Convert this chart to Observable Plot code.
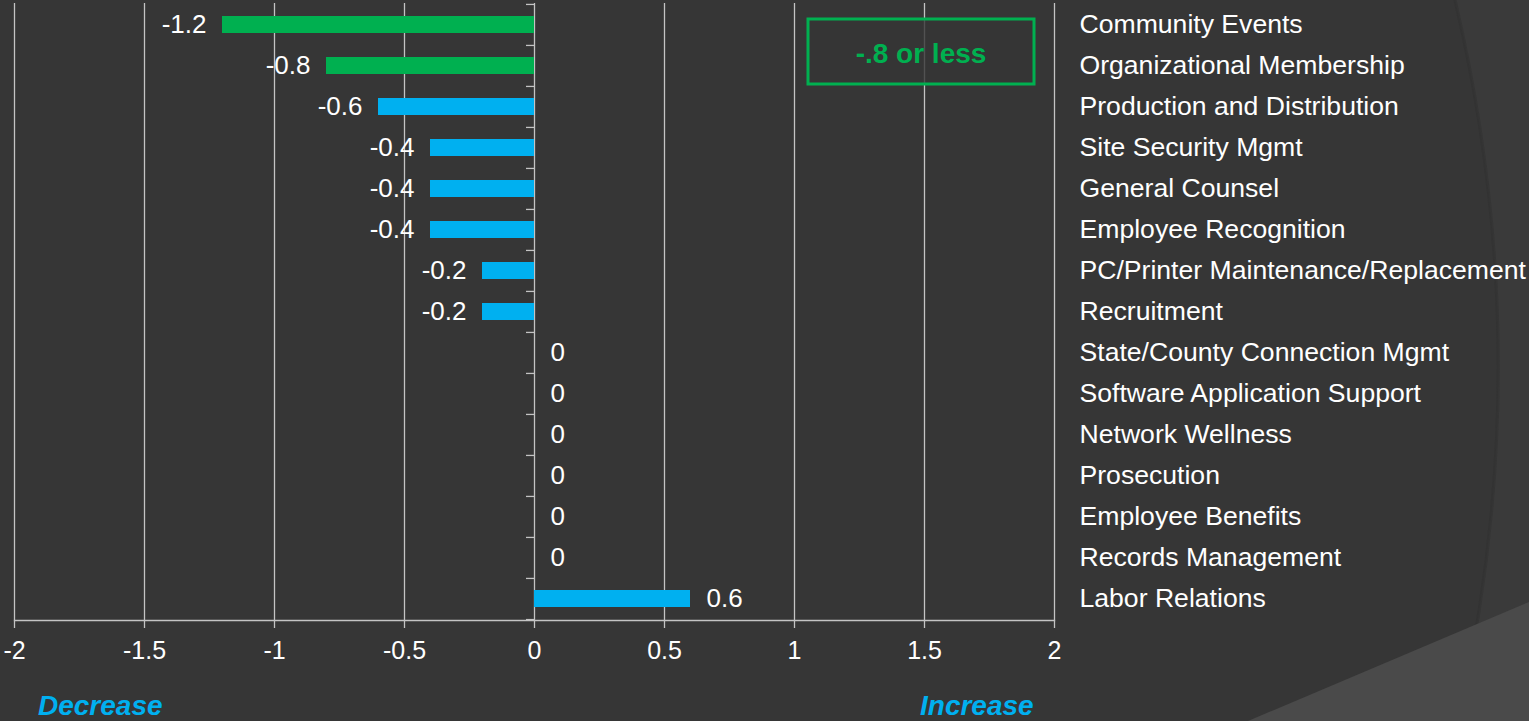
<!DOCTYPE html>
<html>
<head>
<meta charset="utf-8">
<script src="https://cdn.jsdelivr.net/npm/d3@7"></script>
<script src="https://cdn.jsdelivr.net/npm/@observablehq/plot@0.6"></script>
<style>
  html, body { margin: 0; padding: 0; background: #363636; overflow: hidden; }
  #wrap { position: relative; width: 1529px; height: 721px; }
  #bg, #chart { position: absolute; left: 0; top: 0; }
  #chart svg { display: block; }
</style>
</head>
<body>
<div id="wrap">
  <svg id="bg" width="1529" height="721">
    <rect width="1529" height="721" fill="#363636"></rect>
    <path d="M1455,0 Q1540,360 1458,721 L1529,721 L1529,0 Z" fill="#3a3a3a"></path>
    <path d="M1455,0 Q1540,360 1458,721" fill="none" stroke="#2f2f2f" stroke-width="3" opacity="0.5"></path>
    <path d="M1248,721 L1529,602 L1529,721 Z" fill="#4a4a4a"></path>
  </svg>
  <div id="chart"></div>
</div>
<script>
const categories = [
  "Community Events",
  "Organizational Membership",
  "Production and Distribution",
  "Site Security Mgmt",
  "General Counsel",
  "Employee Recognition",
  "PC/Printer Maintenance/Replacement",
  "Recruitment",
  "State/County Connection Mgmt",
  "Software Application Support",
  "Network Wellness",
  "Prosecution",
  "Employee Benefits",
  "Records Management",
  "Labor Relations"
];
const values = [-1.2, -0.8, -0.6, -0.4, -0.4, -0.4, -0.2, -0.2, 0, 0, 0, 0, 0, 0, 0.6];
const xTicks = [-2, -1.5, -1, -0.5, 0, 0.5, 1, 1.5, 2];
const threshold = -0.8;
const thresholdLabel = "-.8 or less";
const leftNote = "Decrease";
const rightNote = "Increase";

const GREEN = "#00b050", BLUE = "#00b0f0", GRID = "#c4c4c4";
const data = categories.map((c, i) => ({category: c, value: values[i]}));

const W = 1529, H = 721, mTop = 3, mBottom = 101;
const step = (H - mBottom - mTop) / categories.length;
const FONT = "'Liberation Sans', Arial, sans-serif";

const chart = Plot.plot({
  width: W,
  height: H,
  marginLeft: 14,
  marginRight: 475,
  marginTop: mTop,
  marginBottom: mBottom,
  style: {background: "transparent", color: "white", fontFamily: FONT},
  x: {domain: [-2, 2], ticks: xTicks, label: null},
  y: {domain: categories, paddingInner: 0.59, paddingOuter: 0.295, label: null},
  marks: [
    Plot.ruleX(xTicks, {stroke: GRID, strokeWidth: 1.3}),
    Plot.barX(data.filter(d => d.value <= threshold), {x: "value", y: "category", fill: GREEN}),
    Plot.barX(data.filter(d => d.value > threshold), {x: "value", y: "category", fill: BLUE}),
    Plot.frame({anchor: "bottom", stroke: GRID, strokeWidth: 1.3}),
    Plot.ruleY(categories, {y: d => d, x1: 0, x2: 0, insetLeft: -8, dy: -step / 2, stroke: GRID, strokeWidth: 1.3}),
    Plot.ruleY(categories.slice(-1), {y: d => d, x1: 0, x2: 0, insetLeft: -8, dy: step / 2, stroke: GRID, strokeWidth: 1.3}),
    Plot.axisX({ticks: xTicks, tickSize: 8, color: GRID, strokeWidth: 1.3, tickFormat: () => "", label: null}),
    Plot.axisX({ticks: xTicks, tickSize: 0, tickPadding: 21, color: "white", fontSize: 25, tickFormat: d => String(d), label: null}),
    Plot.axisY({anchor: "right", tickSize: 0, tickPadding: 25, dy: -1, color: "white", fontSize: 26.6, textAnchor: "start", label: null}),
    Plot.text(data.filter(d => d.value < 0), {x: "value", y: "category", text: d => String(d.value), textAnchor: "end", dx: -16, fill: "white", fontSize: 26}),
    Plot.text(data.filter(d => d.value >= 0), {x: "value", y: "category", text: d => String(d.value), textAnchor: "start", dx: 16, fill: "white", fontSize: 26})
  ]
});

const svg = d3.select(chart);
// threshold annotation box
svg.append("rect")
  .attr("x", 808).attr("y", 19).attr("width", 226).attr("height", 65)
  .attr("fill", "rgba(54,54,54,0.8)").attr("stroke", GREEN).attr("stroke-width", 3);
svg.append("text")
  .attr("x", 921).attr("y", 63).attr("text-anchor", "middle")
  .attr("fill", GREEN).attr("font-family", FONT).attr("font-weight", "bold").attr("font-size", 28)
  .text(thresholdLabel);
// direction notes
svg.append("text")
  .attr("x", 38).attr("y", 715).attr("text-anchor", "start")
  .attr("fill", BLUE).attr("font-family", FONT).attr("font-weight", "bold").attr("font-style", "italic").attr("font-size", 28)
  .text(leftNote);
svg.append("text")
  .attr("x", 920).attr("y", 715).attr("text-anchor", "start")
  .attr("fill", BLUE).attr("font-family", FONT).attr("font-weight", "bold").attr("font-style", "italic").attr("font-size", 28)
  .text(rightNote);

document.getElementById("chart").appendChild(chart);
</script>
</body>
</html>
